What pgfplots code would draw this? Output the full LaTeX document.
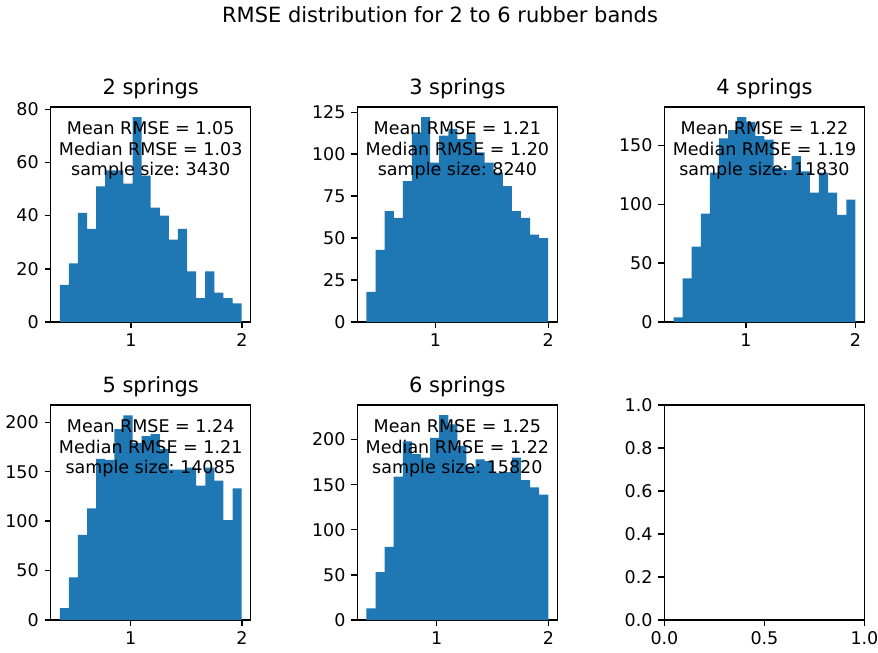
\documentclass[border=0pt]{standalone}
\usepackage{fontspec}
\setmainfont{DejaVu Sans}
\usepackage{pgfplots}
\pgfplotsset{compat=1.18}
\frenchspacing
\definecolor{mplblue}{RGB}{31,119,180}
\pgfplotsset{
  hist/.style={
    scale only axis, width=144pt, height=154.8pt, anchor=south west,
    axis line style={line width=1pt, black},
    tick align=outside, tick pos=left, major tick length=4.4pt,
    tick style={line width=1pt, black},
    ymin=0,
    tick label style={font=\fontsize{12.6}{15}\selectfont, inner sep=4pt},
    /pgf/number format/assume math mode=true,
    title style={font=\fontsize{15.1}{18}\selectfont, anchor=south, inner sep=0pt, yshift=-0.6pt},
  },
  bars/.style={ybar interval, fill=mplblue, draw=none},
}
\tikzset{note/.style={anchor=north, align=center, font=\fontsize{12.6}{14.6}\selectfont, inner sep=0pt, yshift=-10.5pt}}
\begin{document}
\begin{tikzpicture}
\path[use as bounding box] (0,0) rectangle (632.16pt,469.44pt);
\node[anchor=base, font=\fontsize{15.1}{18}\selectfont] at (316.8pt,452.9pt) {RMSE distribution for 2 to 6 rubber bands};

% 2 springs
\begin{axis}[hist, at={(36.5pt,237.6pt)}, title={2 springs},
  xmin=0.276, xmax=2.078, ymax=80.85, xtick={1,2}, ytick={0,20,40,60,80}]
\addplot[bars] coordinates {
(0.358,14) (0.4399,22) (0.5218,41) (0.6037,35) (0.6856,51) (0.7675,57) (0.8494,57)
(0.9313,52) (1.0132,77) (1.0951,55) (1.177,43) (1.2589,40) (1.3408,31) (1.4227,35)
(1.5046,19) (1.5865,9) (1.6684,19) (1.7503,11) (1.8322,9) (1.9141,7) (1.996,7)};
\node[note] at (rel axis cs:0.5,1) {Mean RMSE = 1.05\\Median RMSE = 1.03\\sample size: 3430};
\end{axis}

% 3 springs
\begin{axis}[hist, at={(257.3pt,237.6pt)}, title={3 springs},
  xmin=0.306, xmax=2.081, ymax=128.1, xtick={1,2}, ytick={0,25,50,75,100,125}]
\addplot[bars] coordinates {
(0.387,18) (0.4677,43) (0.5483,66) (0.629,62) (0.7096,84) (0.7903,113) (0.8709,122)
(0.9516,95) (1.0322,111) (1.1129,115) (1.1935,109) (1.2742,112) (1.3548,101) (1.4355,95)
(1.5161,89) (1.5968,81) (1.6774,66) (1.7581,62) (1.8387,52) (1.9194,50) (2.0,50)};
\node[note] at (rel axis cs:0.5,1) {Mean RMSE = 1.21\\Median RMSE = 1.20\\sample size: 8240};
\end{axis}

% 4 springs
\begin{axis}[hist, at={(478.4pt,237.6pt)}, title={4 springs},
  xmin=0.2539, xmax=2.0832, ymax=182.7, xtick={1,2}, ytick={0,50,100,150}]
\addplot[bars] coordinates {
(0.337,4) (0.4202,37) (0.5033,64) (0.5865,92) (0.6696,127) (0.7528,156) (0.8359,163)
(0.9191,174) (1.0022,170) (1.0854,158) (1.1685,155) (1.2517,131) (1.3348,129) (1.418,141)
(1.5011,128) (1.5843,110) (1.6674,127) (1.7506,110) (1.8337,91) (1.9169,104) (2.0,104)};
\node[note] at (rel axis cs:0.5,1) {Mean RMSE = 1.22\\Median RMSE = 1.19\\sample size: 11830};
\end{axis}

% 5 springs
\begin{axis}[hist, at={(36.5pt,23.04pt)}, title={5 springs},
  xmin=0.2808, xmax=2.0777, ymax=217.4, xtick={1,2}, ytick={0,50,100,150,200}]
\addplot[bars] coordinates {
(0.3625,12) (0.4442,43) (0.5259,86) (0.6075,113) (0.6892,163) (0.7709,162) (0.8526,193)
(0.9343,207) (1.016,179) (1.0976,186) (1.1793,188) (1.261,173) (1.3427,152) (1.4244,152)
(1.506,154) (1.5877,136) (1.6694,154) (1.7511,141) (1.8328,101) (1.9144,133) (1.996,133)};
\node[note] at (rel axis cs:0.5,1) {Mean RMSE = 1.24\\Median RMSE = 1.21\\sample size: 14085};
\end{axis}

% 6 springs
\begin{axis}[hist, at={(257.3pt,23.04pt)}, title={6 springs},
  xmin=0.2918, xmax=2.0793, ymax=238.35, xtick={1,2}, ytick={0,50,100,150,200}]
\addplot[bars] coordinates {
(0.373,13) (0.4543,53) (0.5355,81) (0.6168,159) (0.698,198) (0.7793,184) (0.8605,180)
(0.9418,202) (1.023,227) (1.1043,217) (1.1855,193) (1.2668,170) (1.348,178) (1.4293,176)
(1.5105,163) (1.5918,164) (1.673,180) (1.7543,155) (1.8355,147) (1.9168,139) (1.998,139)};
\node[note] at (rel axis cs:0.5,1) {Mean RMSE = 1.25\\Median RMSE = 1.22\\sample size: 15820};
\end{axis}

% empty
\begin{axis}[hist, at={(478.4pt,23.04pt)},
  xmin=0, xmax=1, ymin=0, ymax=1, xtick={0,0.5,1}, ytick={0,0.2,0.4,0.6,0.8,1},
  tick label style={/pgf/number format/fixed, /pgf/number format/fixed zerofill, /pgf/number format/precision=1}]
\end{axis}
\end{tikzpicture}
\end{document}
